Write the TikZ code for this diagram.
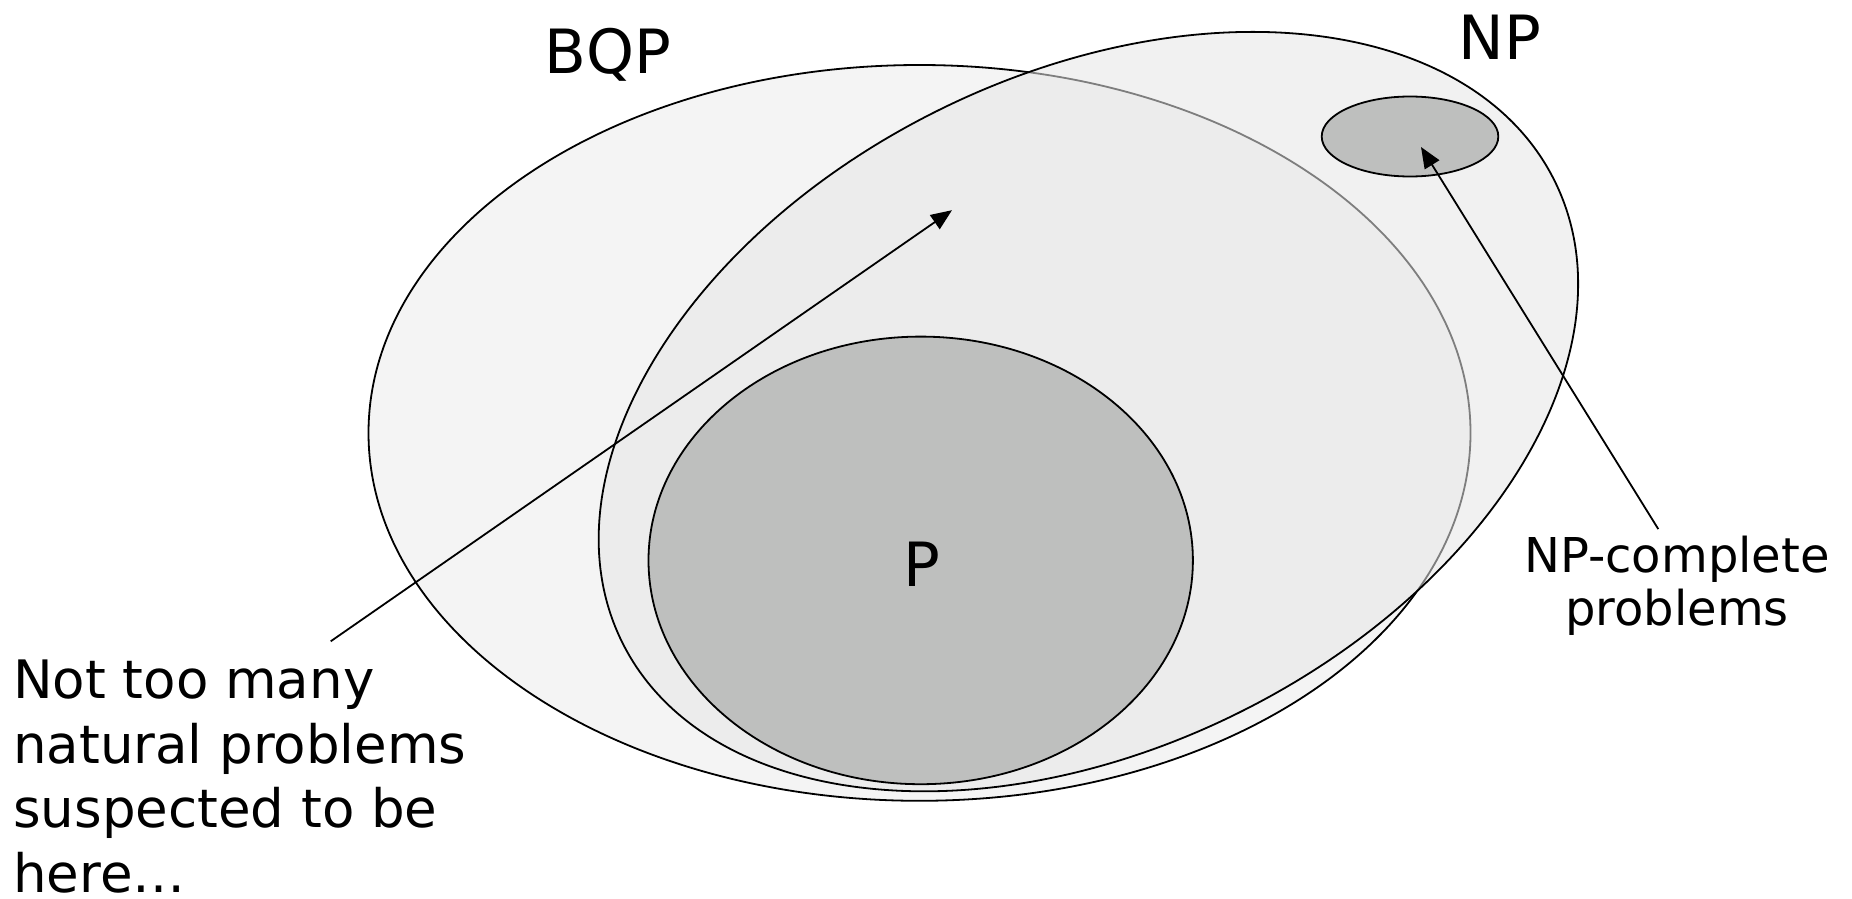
\documentclass[tikz,border=0pt]{standalone}
\usepackage{fontspec}
\setmainfont{DejaVu Sans}
\usetikzlibrary{shapes.geometric,arrows.meta}
\definecolor{bqpfill}{RGB}{244,244,244}
\definecolor{npfill}{RGB}{230,230,230}
\definecolor{pfill}{RGB}{190,191,190}
\begin{document}
\begin{tikzpicture}[x=1pt,y=-1pt,
  set/.style={ellipse, draw=black, line width=1.8pt, inner sep=0pt, outer sep=0pt},
  ptr/.style={draw=black, line width=1.8pt, -{Triangle[length=21pt,width=17pt]}},
  biglabel/.style={font=\fontsize{61}{73}\selectfont, inner sep=0pt, anchor=base},
  note/.style={inner sep=0pt, font=\fontsize{53}{64.5}\selectfont}
]
\useasboundingbox[fill=white] (0,0) rectangle (1852,899);
\node[set, fill=bqpfill, minimum width=1102pt, minimum height=735.8pt] (bqp) at (919.5,432.9) {};
\node[set, draw opacity=1, fill=npfill, fill opacity=0.55, minimum width=1040.4pt, minimum height=673.2pt, rotate=26.3] (np) at (1088.4,411.6) {};
\node[set, fill=pfill, minimum width=544.4pt, minimum height=447.6pt] (p) at (920.7,560.4) {};
\node[set, fill=pfill, minimum width=176.6pt, minimum height=80pt] (npc) at (1410,136.5) {};
\coordinate (a1s) at (330.7,641.3);
\coordinate (a1e) at (952,210.2);
\draw[ptr] (a1s) -- (a1e);
\coordinate (a2s) at (1658.3,529.1);
\coordinate (a2e) at (1421,147);
\draw[ptr] (a2s) -- (a2e);
\node[biglabel] (lbqp) at (607.5,74) {BQP};
\node[biglabel] (lnp) at (1500,59.5) {NP};
\node[biglabel] (lp) at (922,586) {P};
\node[note, anchor=north west, align=left] (lnote) at (13,660) {Not too many\\natural problems\\suspected to be\\here…};
\node[inner sep=0pt, font=\fontsize{48}{53}\selectfont, align=center, anchor=north] (lnpc) at (1677,536) {NP-complete\\problems};
\end{tikzpicture}
\end{document}
